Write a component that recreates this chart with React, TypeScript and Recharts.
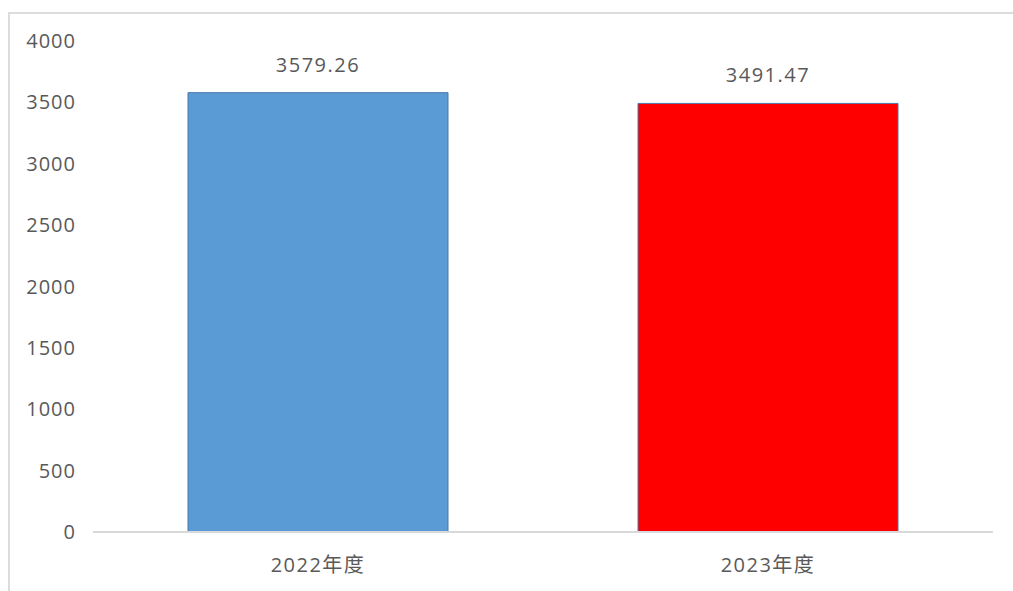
import { BarChart, Bar, XAxis, YAxis, Cell, LabelList } from "recharts";

const categories = ["2022年度", "2023年度"];
const values = [3579.26, 3491.47];
const barColors = ["#5b9bd5", "#ff0000"];
const yTicks = [0, 500, 1000, 1500, 2000, 2500, 3000, 3500, 4000];

const data = categories.map((name, i) => ({ name, value: values[i] }));

const font = '"Open Sans", "Noto Sans CJK SC", sans-serif';
const textColor = "#595959";

export default function App() {
  return (
    <div
      style={{
        position: "absolute",
        left: 0,
        top: 0,
        width: 1013,
        height: 591,
        background: "#fff",
        overflow: "hidden",
      }}
    >
      <div
        style={{
          position: "absolute",
          left: 8,
          top: 12,
          width: 1013,
          height: 600,
          borderTop: "2px solid #dcdcdc",
          borderLeft: "2px solid #dcdcdc",
        }}
      />
      <div style={{ position: "absolute", left: 0, top: 0 }}>
        <BarChart
          width={1013}
          height={591}
          data={data}
          margin={{ top: 41, right: 20, bottom: 19, left: 0 }}
          barCategoryGap={95}
        >
          <XAxis
            dataKey="name"
            height={40}
            tickLine={false}
            tickMargin={20}
            axisLine={{ stroke: "#d9d9d9", strokeWidth: 2 }}
            tick={{ fill: textColor, fontSize: 20, fontFamily: font, letterSpacing: 1.5 }}
          />
          <YAxis
            width={93}
            domain={[0, 4000]}
            ticks={yTicks}
            interval={0}
            tickLine={false}
            axisLine={false}
            tickMargin={11}
            tick={{ fill: textColor, fontSize: 20, fontFamily: font, letterSpacing: 1 }}
          />
          <Bar dataKey="value" isAnimationActive={false} stroke="#4a78a8" strokeWidth={1}>
            {data.map((d, i) => (
              <Cell key={d.name} fill={barColors[i]} />
            ))}
            <LabelList
              dataKey="value"
              position="top"
              offset={21}
              fill={textColor}
              fontSize={20}
              fontFamily={font}
              letterSpacing={1.5}
            />
          </Bar>
        </BarChart>
      </div>
    </div>
  );
}
